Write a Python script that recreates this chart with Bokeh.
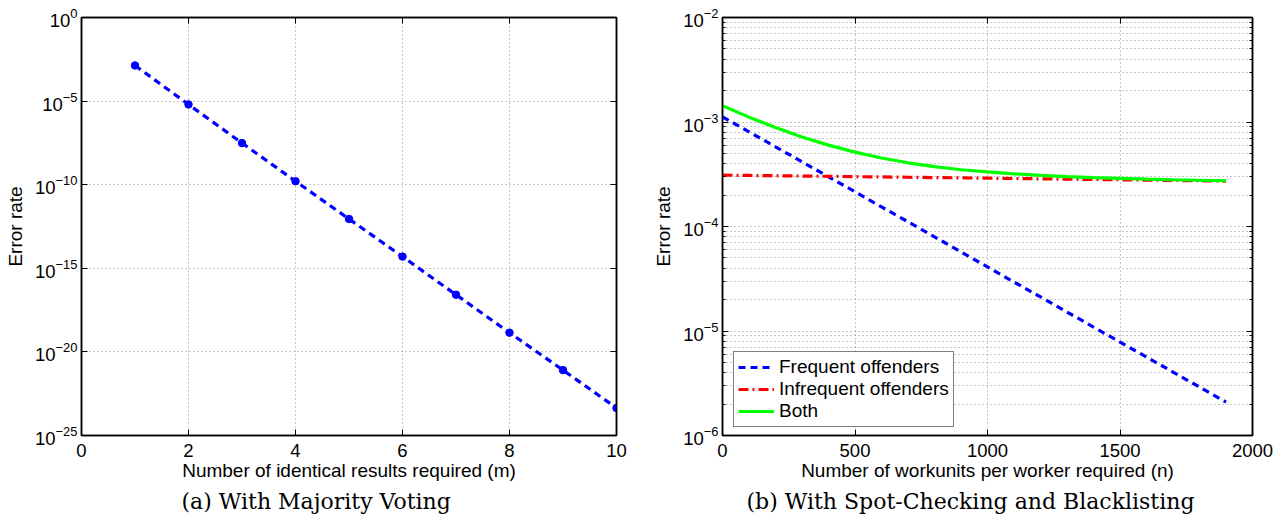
from bokeh.plotting import figure
from bokeh.layouts import row
from bokeh.models import (FixedTicker, Title, Legend, LegendItem, Range1d,
                          LogAxis, LinearAxis, CustomJSTickFormatter)
from bokeh.embed import file_html
from bokeh.resources import INLINE

# ---- data (a) ----
m_values = [1, 2, 3, 4, 5, 6, 7, 8, 9, 10]
majority_error = [1.35e-3, 6.31e-6, 3.09e-8, 1.62e-10, 8.91e-13,
                  5.01e-15, 2.63e-17, 1.41e-19, 8.13e-22, 4.47e-24]

# ---- data (b) ----
n_values = [0, 100, 200, 300, 400, 500, 600, 700, 800, 900, 1000,
            1100, 1200, 1300, 1400, 1500, 1600, 1700, 1800, 1900]
frequent = [1.12e-3, 8.05e-4, 5.79e-4, 4.16e-4, 2.99e-4, 2.15e-4, 1.54e-4,
            1.11e-4, 7.96e-5, 5.71e-5, 4.10e-5, 2.94e-5, 2.12e-5, 1.52e-5,
            1.09e-5, 7.84e-6, 5.63e-6, 4.05e-6, 2.91e-6, 2.09e-6]
infrequent = [3.10e-4, 3.08e-4, 3.06e-4, 3.04e-4, 3.02e-4, 3.00e-4, 2.98e-4,
              2.96e-4, 2.94e-4, 2.92e-4, 2.90e-4, 2.88e-4, 2.86e-4, 2.84e-4,
              2.82e-4, 2.80e-4, 2.78e-4, 2.76e-4, 2.74e-4, 2.72e-4]
both = [1.43e-3, 1.113e-3, 8.85e-4, 7.20e-4, 6.01e-4, 5.15e-4, 4.52e-4,
        4.07e-4, 3.74e-4, 3.49e-4, 3.33e-4, 3.19e-4, 3.08e-4, 3.00e-4,
        2.94e-4, 2.89e-4, 2.84e-4, 2.80e-4, 2.77e-4, 2.74e-4]

xticks_a = [0, 2, 4, 6, 8, 10]
yticks_a = [1e0, 1e-5, 1e-10, 1e-15, 1e-20, 1e-25]
xticks_b = [0, 500, 1000, 1500, 2000]
yticks_b = [1e-6, 1e-5, 1e-4, 1e-3, 1e-2]
yminor_b = [k * 10.0 ** e for e in range(-6, -2) for k in range(2, 10)]

captions = ["(a) With Majority Voting", "(b) With Spot-Checking and Blacklisting"]

SANS = "Liberation Sans"
SERIF = "DejaVu Serif"
GRID = "#8c8c8c"


def tick_style(ax):
    ax.axis_line_color = "black"
    ax.axis_line_width = 1.5
    ax.major_tick_in = 6
    ax.major_tick_out = 0
    ax.minor_tick_in = 3
    ax.minor_tick_out = 0
    ax.major_tick_line_color = "black"
    ax.minor_tick_line_color = "black"


def style(p, ylabel_standoff):
    p.outline_line_color = "black"
    p.outline_line_width = 1.5
    p.background_fill_color = "white"
    p.border_fill_color = "white"
    for ax in (p.xaxis[0], p.yaxis[0]):
        tick_style(ax)
        ax.major_label_text_font = SANS
        ax.major_label_text_font_size = "18.5px"
        ax.major_label_text_color = "black"
        ax.axis_label_text_font = SANS
        ax.axis_label_text_font_size = "19px"
        ax.axis_label_text_font_style = "normal"
        ax.axis_label_text_color = "black"
    p.xaxis[0].major_label_standoff = 8
    p.xaxis[0].axis_label_standoff = 0
    p.yaxis[0].major_label_standoff = 4
    p.yaxis[0].axis_label_standoff = ylabel_standoff
    for g in (p.xgrid[0], p.ygrid[0]):
        g.grid_line_color = GRID
        g.grid_line_dash = "1 3"
        g.grid_line_width = 1


def mirror_axes(p, xticker, yticker):
    blank = CustomJSTickFormatter(code="return ' ';")
    top = LinearAxis(ticker=xticker, formatter=blank)
    right = LogAxis(ticker=yticker, formatter=blank)
    for ax in (top, right):
        tick_style(ax)
        ax.major_label_standoff = 0
        ax.major_label_text_font_size = "4px"
    p.add_layout(top, "above")
    p.add_layout(right, "right")


# ---- figure (a) ----
p1 = figure(width=636, height=523, y_axis_type="log",
            x_range=Range1d(0, 10), y_range=Range1d(1e-25, 1e0),
            output_backend="svg", toolbar_location=None,
            min_border_left=81, min_border_right=20,
            min_border_top=15, min_border_bottom=88)
p1.line(m_values, majority_error, line_color="#0000ff", line_width=3.2,
        line_dash="7 5")
p1.scatter(m_values, majority_error, marker="circle", size=7.5,
           fill_color="#0000ff", line_color="#0000ff")
tick_a_x = FixedTicker(ticks=xticks_a, minor_ticks=[])
tick_a_y = FixedTicker(ticks=yticks_a, minor_ticks=[])
p1.xaxis.ticker = tick_a_x
p1.yaxis.ticker = tick_a_y
p1.xaxis.axis_label = "Number of identical results required (m)"
p1.yaxis.axis_label = "Error rate"
style(p1, 6)
mirror_axes(p1, tick_a_x, tick_a_y)

# ---- figure (b) ----
p2 = figure(width=652, height=523, y_axis_type="log",
            x_range=Range1d(0, 2000), y_range=Range1d(1e-6, 1e-2),
            output_backend="svg", toolbar_location=None,
            min_border_left=86, min_border_right=36,
            min_border_top=17, min_border_bottom=88)
r_f = p2.line(n_values, frequent, line_color="#0000ff", line_width=3.2,
              line_dash="7 5")
r_i = p2.line(n_values, infrequent, line_color="#ff0000", line_width=3.2,
              line_dash="10 4 2 4")
r_b = p2.line(n_values, both, line_color="#00ff00", line_width=3.2)
tick_b_x = FixedTicker(ticks=xticks_b, minor_ticks=[])
tick_b_y = FixedTicker(ticks=yticks_b, minor_ticks=yminor_b)
p2.xaxis.ticker = tick_b_x
p2.yaxis.ticker = tick_b_y
p2.xaxis.axis_label = "Number of workunits per worker required (n)"
p2.yaxis.axis_label = "Error rate"
style(p2, 6)
p2.ygrid[0].minor_grid_line_color = GRID
p2.ygrid[0].minor_grid_line_dash = "1 3"
p2.ygrid[0].minor_grid_line_width = 1
mirror_axes(p2, tick_b_x, tick_b_y)

legend = Legend(items=[LegendItem(label="Frequent offenders", renderers=[r_f]),
                       LegendItem(label="Infrequent offenders", renderers=[r_i]),
                       LegendItem(label="Both", renderers=[r_b])],
                location=(11, 8), margin=0, padding=4, spacing=0,
                glyph_width=36, glyph_height=22, label_height=22,
                label_standoff=5,
                label_text_font=SANS, label_text_font_size="19px",
                label_text_color="black",
                border_line_color="black", border_line_width=1,
                background_fill_color="white", background_fill_alpha=1)
p2.add_layout(legend, "center")

p1.add_layout(Title(text=captions[0], align="left", offset=100,
                    text_font=SERIF, text_font_size="22px",
                    text_font_style="normal", text_color="black",
                    standoff=6), "below")
p2.add_layout(Title(text=captions[1], align="left", offset=24,
                    text_font=SERIF, text_font_size="22px",
                    text_font_style="normal", text_color="black",
                    standoff=6), "below")

layout = row(p1, p2)
open("out.html", "w").write(file_html(layout, INLINE))
